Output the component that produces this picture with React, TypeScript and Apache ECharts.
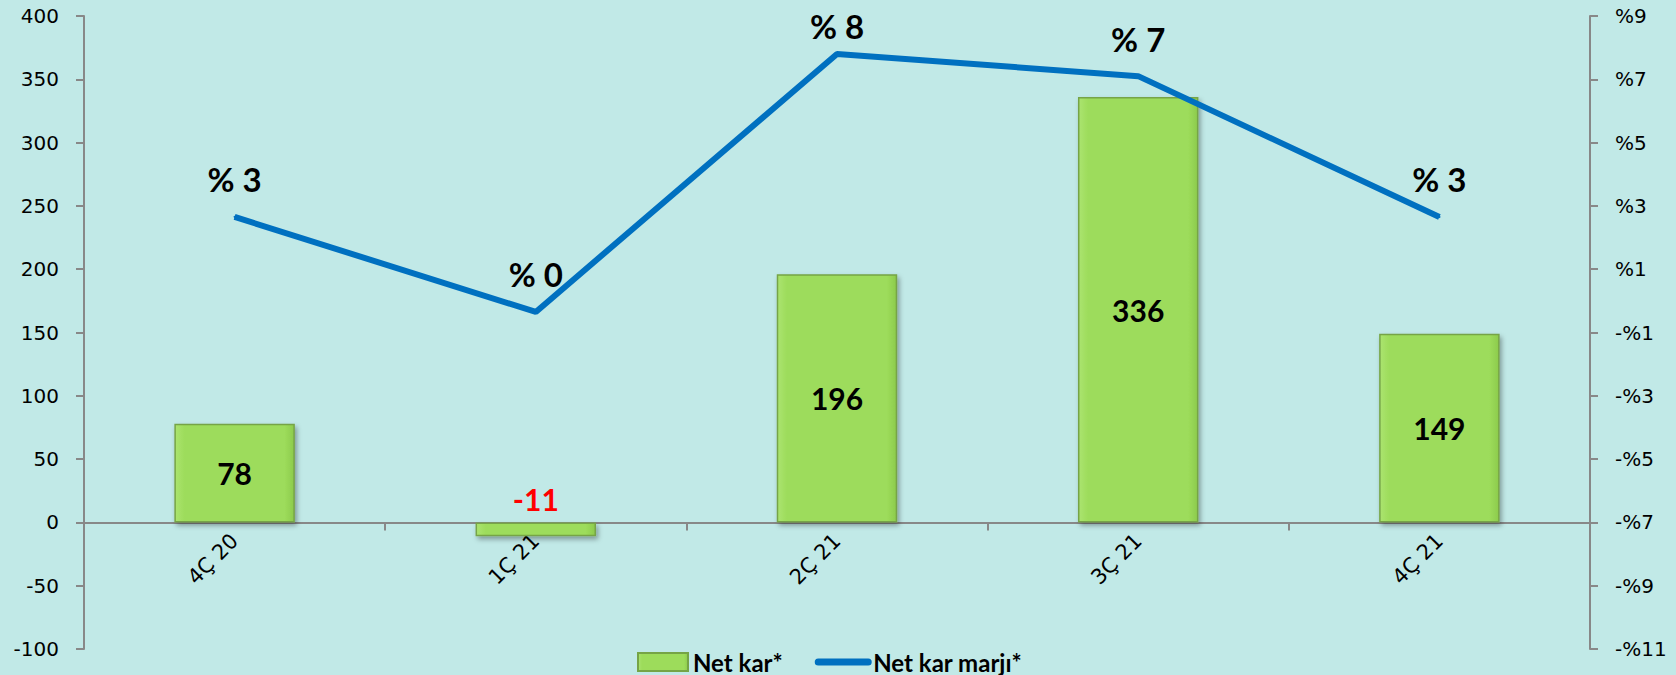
import React, { useEffect, useRef } from "react";
import * as echarts from "echarts";

const categories = ["4Ç 20", "1Ç 21", "2Ç 21", "3Ç 21", "4Ç 21"];
const netProfit = [78, -11, 196, 336, 149];
const netMargin = [2.65, -0.35, 7.8, 7.1, 2.65];
const leftTicks = { min: -100, max: 400, interval: 50 };
const rightTicks = { min: -11, max: 9, interval: 2 };

const RIGHT_SHIFT = -rightTicks.min; // right axis counted from 0 so ticks start at -11

const CHART_W = 1676;
const CHART_H = 675;
const GRID = { left: 84, right: 86, top: 16, bottom: 26 };
// move the category axis (line, ticks, labels) up to the zero line of the left axis
const ZERO_OFFSET =
  -((CHART_H - GRID.top - GRID.bottom) * (0 - leftTicks.min)) / (leftTicks.max - leftTicks.min);

// label placement tweak: the label near the top edge sits closer to its point
const marginLabelDistance = (i: number) => (i === 2 ? 10 : 20);

export default function App() {
  const ref = useRef<HTMLDivElement>(null);
  useEffect(() => {
    if (!ref.current) return;
    const chart = echarts.init(ref.current, null, { renderer: "svg" });
    const axisFont = { fontFamily: "DejaVu Sans", fontSize: 20, color: "#000" };
    chart.setOption({
      animation: false,
      backgroundColor: "#c1e9e7",
      grid: { ...GRID, containLabel: false, outerBoundsMode: "none" },
      legend: {
        left: 632,
        top: 645,
        itemWidth: 50,
        itemHeight: 18,
        itemGap: 32,
        textStyle: { fontFamily: "Lato", fontWeight: "bold", fontSize: 24, color: "#000" },
        data: [
          { name: "Net kar*", icon: "rect" },
          {
            name: "Net kar marjı*",
            itemStyle: { opacity: 0 },
            lineStyle: { width: 7, cap: "round", color: "#0070c0" },
          },
        ],
      },
      xAxis: {
        type: "category",
        data: categories,
        offset: ZERO_OFFSET,
        axisLine: { onZero: false, lineStyle: { color: "#888", width: 2 } },
        axisTick: { show: true, length: 8, lineStyle: { color: "#888", width: 2 } },
        axisLabel: { ...axisFont, fontSize: 21, rotate: 45, interval: 0, margin: 15 },
        splitLine: { show: false },
      },
      yAxis: [
        {
          type: "value",
          min: leftTicks.min,
          max: leftTicks.max,
          interval: leftTicks.interval,
          axisLine: { show: true, onZero: false, lineStyle: { color: "#888", width: 2 } },
          axisTick: { show: true, length: 8, lineStyle: { color: "#888", width: 2 } },
          axisLabel: { ...axisFont, margin: 25 },
          splitLine: { show: false },
        },
        {
          type: "value",
          position: "right",
          min: 0,
          max: rightTicks.max - rightTicks.min,
          interval: rightTicks.interval,
          axisLine: { show: true, onZero: false, lineStyle: { color: "#888", width: 2 } },
          axisTick: { show: true, length: 8, lineStyle: { color: "#888", width: 2 } },
          axisLabel: {
            ...axisFont,
            margin: 25,
            formatter: (v: number) => {
              const r = Math.round(v - RIGHT_SHIFT);
              return r < 0 ? "-%" + Math.abs(r) : "%" + r;
            },
          },
          splitLine: { show: false },
        },
      ],
      series: [
        {
          name: "Net kar*",
          type: "bar",
          barWidth: "40%",
          yAxisIndex: 0,
          itemStyle: {
            color: new echarts.graphic.LinearGradient(0, 0, 1, 0, [
              { offset: 0, color: "#abe470" },
              { offset: 0.08, color: "#9ddc5b" },
              { offset: 0.92, color: "#9ddc5b" },
              { offset: 1, color: "#8ccb4c" },
            ]),
            borderColor: "#76a446",
            borderWidth: 1.5,
            shadowBlur: 5,
            shadowOffsetX: 2,
            shadowOffsetY: 3,
            shadowColor: "rgba(0,0,0,0.35)",
          },
          data: netProfit.map((v) =>
            v < 0
              ? {
                  value: v,
                  label: {
                    show: true,
                    position: "top",
                    distance: 8,
                    color: "#ff0000",
                    fontFamily: "Lato",
                    fontWeight: "bold",
                    fontSize: 30,
                  },
                }
              : v
          ),
          label: {
            show: true,
            position: "inside",
            color: "#000",
            fontFamily: "Lato",
            fontWeight: "bold",
            fontSize: 30,
          },
          z: 2,
        },
        {
          name: "Net kar marjı*",
          type: "line",
          yAxisIndex: 1,
          symbol: "circle",
          symbolSize: 2,
          lineStyle: { color: "#0070c0", width: 6 },
          itemStyle: { color: "#0070c0" },
          data: netMargin.map((m, i) => ({
            value: m + RIGHT_SHIFT,
            label: { distance: marginLabelDistance(i) },
          })),
          label: {
            show: true,
            position: "top",
            distance: 20,
            color: "#000",
            fontFamily: "Lato",
            fontWeight: "bold",
            fontSize: 33,
            formatter: (p: any) => "% " + Math.abs(Math.round(netMargin[p.dataIndex])),
          },
          z: 5,
        },
      ],
    });
    return () => chart.dispose();
  }, []);
  return (
    <div
      ref={ref}
      style={{ position: "absolute", left: 0, top: 0, width: CHART_W, height: CHART_H }}
    />
  );
}
